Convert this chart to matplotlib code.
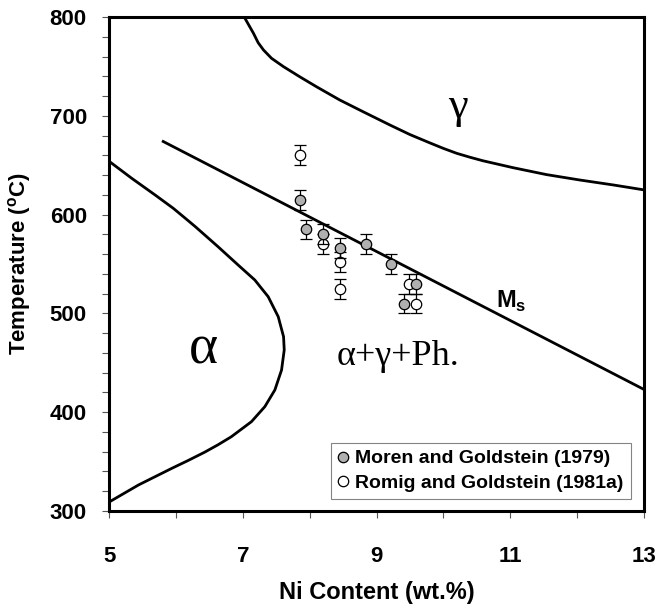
import numpy as np
import matplotlib
matplotlib.use("Agg")
import matplotlib.pyplot as plt

plt.rcParams['font.family'] = ['Liberation Sans', 'DejaVu Sans']
plt.rcParams['font.weight'] = 'bold'
plt.rcParams['mathtext.fontset'] = 'custom'
plt.rcParams['mathtext.rm'] = 'Liberation Sans:bold'
plt.rcParams['mathtext.bf'] = 'Liberation Sans:bold'

# Moren and Goldstein (1979)
moren_ni = [7.86, 7.94, 8.20, 8.45, 8.85, 9.22, 9.59, 9.41]
moren_t = [615, 585, 580, 566, 570, 550, 530, 510]
# Romig and Goldstein (1981a)
romig_ni = [7.86, 8.20, 8.45, 8.45, 9.49, 9.59]
romig_t = [660, 570, 552, 525, 530, 510]
err_t = 10

# phase boundaries
gamma_ni = [7.03, 7.16, 7.23, 7.31, 7.43, 7.61, 7.85, 8.10, 8.45, 8.80, 9.20, 9.50,
            9.80, 10.00, 10.20, 10.40, 10.59, 11.04, 11.54, 12.04, 12.54, 13.0]
gamma_t = [799, 783.5, 774, 766.6, 758.2, 749.7, 739.6, 729.5, 716, 704.1, 690.7, 681,
           672.5, 667, 662, 658, 654.5, 647.5, 640.5, 635, 630, 625]
alpha_ni = [5.01, 5.34, 5.69, 5.96, 6.14, 6.29, 6.63, 6.93, 7.18, 7.38, 7.53, 7.61,
            7.62, 7.58, 7.48, 7.33, 7.13, 6.83, 6.63, 6.43, 6.18, 5.94, 5.44, 5.01]
alpha_t = [653.5, 636.7, 619.8, 606.4, 596.3, 587.8, 567.5, 549, 533.8, 516.9, 496.7, 476.4,
           463, 442.7, 422.5, 405.6, 390.4, 375.2, 367, 359.5, 351, 343.2, 326.3, 309.4]
ms_ni = [5.81, 13.0]
ms_t = [674, 423]

fig = plt.figure(figsize=(6.58, 6.07), dpi=100)
ax = fig.add_axes([0.1657, 0.1582, 0.813, 0.8138])

ax.plot(gamma_ni, gamma_t, c="black", lw=2, solid_joinstyle="round")
ax.plot(alpha_ni, alpha_t, c="black", lw=2, solid_joinstyle="round")
ax.plot(ms_ni, ms_t, c="black", lw=2)

ax.errorbar(romig_ni, romig_t, yerr=err_t, fmt="o", mfc="white", mec="black", mew=0.9,
            ms=7.5, ecolor="black", elinewidth=0.9, capsize=4, capthick=0.9,
            label="Romig and Goldstein (1981a)", zorder=3)
ax.errorbar(moren_ni, moren_t, yerr=err_t, fmt="o", mfc="#b0b0b0", mec="black", mew=0.9,
            ms=7.5, ecolor="black", elinewidth=0.9, capsize=4, capthick=0.9,
            label="Moren and Goldstein (1979)", zorder=4)

serif = ['Liberation Serif', 'DejaVu Serif']
ax.text(6.41, 463, "α", family=serif, fontsize=40, fontweight="normal", ha="center", va="center")
ax.text(9.32, 456, "α+γ+Ph.", family=serif, fontsize=26, fontweight="normal", ha="center", va="center")
ax.text(10.22, 709, "γ", family=serif, fontsize=32, fontweight="normal", ha="center", va="center")
ax.text(11.02, 512, r"M$_{\mathrm{s}}$", fontsize=17, fontweight="bold", ha="center", va="center")

ax.set_xlim(5, 13)
ax.set_ylim(300, 800)
ax.set_xticks(np.arange(5, 14, 1))
ax.set_xticklabels(["5", "", "7", "", "9", "", "11", "", "13"])
ax.set_yticks(np.arange(300, 801, 20))
ax.set_yticklabels([str(v) if v % 100 == 0 else "" for v in range(300, 801, 20)])
ax.tick_params(direction="out", length=5, width=0.8, color="#555555", labelsize=16)
ax.tick_params(axis="x", pad=20)
ax.tick_params(axis="y", pad=11)
for s in ax.spines.values():
    s.set_linewidth(2.2)

ax.set_xlabel("Ni Content (wt.%)", fontsize=17, fontweight="bold", labelpad=10)
ax.set_ylabel(r"Temperature ($^{\mathrm{o}}$C)", fontsize=16, fontweight="bold", labelpad=12)

h, l = ax.get_legend_handles_labels()
leg = ax.legend([h[1][0], h[0][0]], [l[1], l[0]], loc="lower right",
                bbox_to_anchor=(0.975, 0.025), fontsize=14, frameon=True, fancybox=False,
                handlelength=0.5, handletextpad=0.4, borderpad=0.35, labelspacing=0.35,
                borderaxespad=0)
leg.get_frame().set_edgecolor("#666666")
leg.get_frame().set_linewidth(0.8)
for t in leg.get_texts():
    t.set_fontweight("bold")

fig.savefig("out.png", dpi=100)
